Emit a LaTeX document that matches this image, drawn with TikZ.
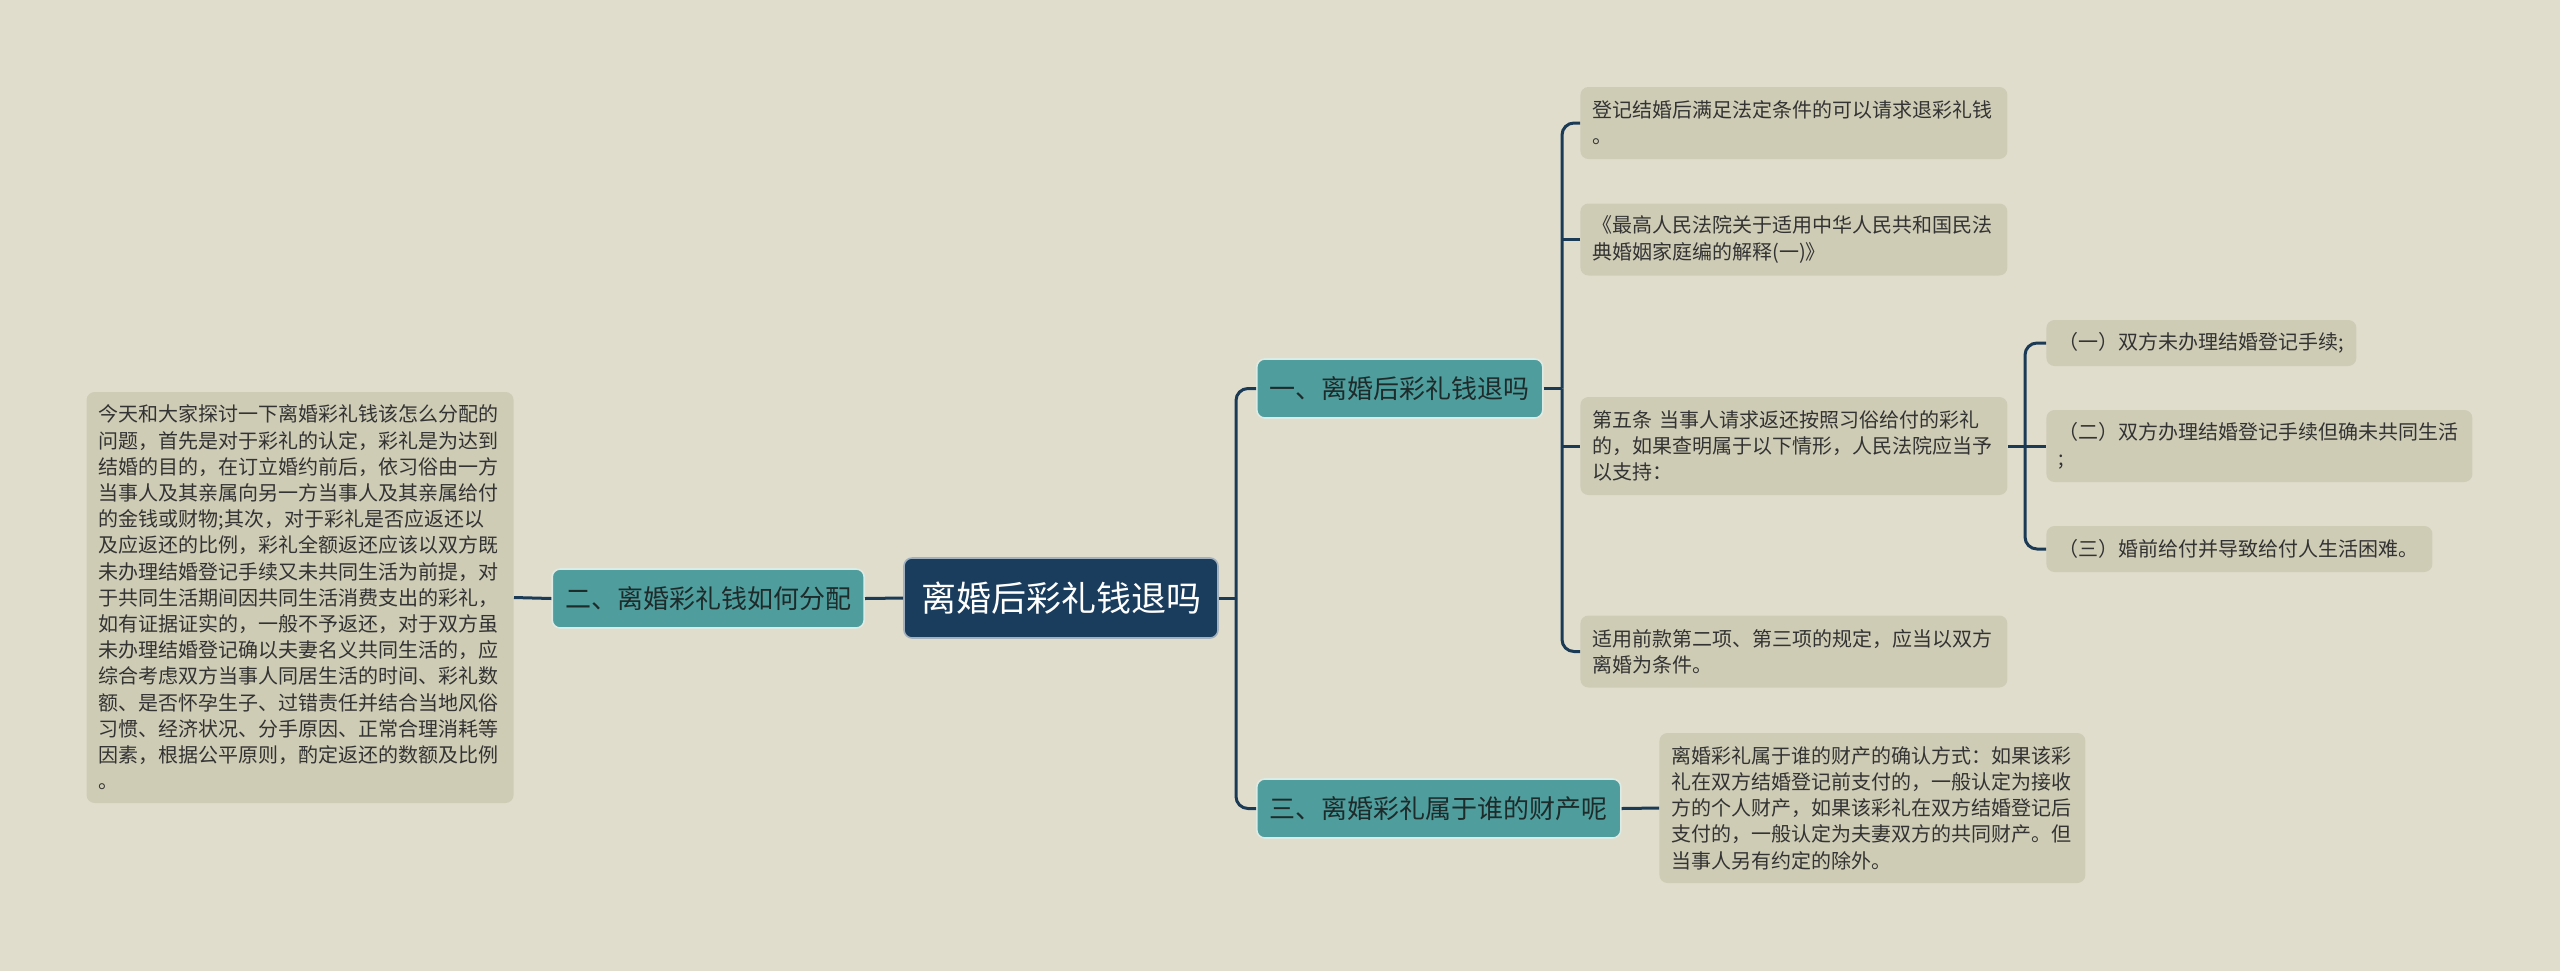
\documentclass[tikz,border=0pt]{standalone}
\usepackage{fontspec}
\newfontfamily\cjk{Noto Sans CJK SC}
\definecolor{bgc}{HTML}{E0DDCD}
\definecolor{leafc}{HTML}{CFCCB6}
\definecolor{tealc}{HTML}{509D9D}
\definecolor{tealborder}{HTML}{DDEBE4}
\definecolor{rootc}{HTML}{1A3D5E}
\definecolor{linec}{HTML}{1B3A56}
\definecolor{leaftext}{HTML}{333333}
\definecolor{lvltext}{HTML}{1E2B2B}
\begin{document}
\begin{tikzpicture}[x=0.5pt,y=-0.5pt,
  conn/.style={draw=linec, line width=1.5pt},
  leaf/.style={fill=leafc, rounded corners=4pt, font=\cjk\fontsize{10}{13.1}\selectfont, text=leaftext, align=left, inner xsep=6pt, inner ysep=0pt},
  lvl/.style={fill=tealc, draw=tealborder, line width=0.8pt, rounded corners=4pt, font=\cjk\fontsize{13}{15}\selectfont, text=lvltext, inner xsep=6.5pt, inner ysep=0pt, minimum height=29.5pt},
  rootn/.style={fill=rootc, draw=white!60!rootc, line width=0.8pt, rounded corners=4pt, font=\cjk\fontsize{17.5}{20}\selectfont, text=white, minimum width=157pt, minimum height=40pt, inner sep=0pt}]
\useasboundingbox (0,0) rectangle (2560,971);
\fill[bgc] (0,0) rectangle (2560,971);

% nodes
\node[rootn] (root) at (1061,598) {离婚后彩礼钱退吗};
\node[lvl, anchor=east] (n2) at (865,598.5) {二、离婚彩礼钱如何分配};
\node[lvl, anchor=west] (n1) at (1256,388.5) {一、离婚后彩礼钱退吗};
\node[lvl, anchor=west] (n3) at (1256,808.5) {三、离婚彩礼属于谁的财产呢};

\node[leaf, anchor=east, text width=201.5pt, minimum height=205.5pt] (lb) at (514,597.5) {今天和大家探讨一下离婚彩礼钱该怎么分配的\\问题，首先是对于彩礼的认定，彩礼是为达到\\结婚的目的，在订立婚约前后，依习俗由一方\\当事人及其亲属向另一方当事人及其亲属给付\\的金钱或财物;其次，对于彩礼是否应返还以\\及应返还的比例，彩礼全额返还应该以双方既\\未办理结婚登记手续又未共同生活为前提，对\\于共同生活期间因共同生活消费支出的彩礼，\\如有证据证实的，一般不予返还，对于双方虽\\未办理结婚登记确以夫妻名义共同生活的，应\\综合考虑双方当事人同居生活的时间、彩礼数\\额、是否怀孕生子、过错责任并结合当地风俗\\习惯、经济状况、分手原因、正常合理消耗等\\因素，根据公平原则，酌定返还的数额及比例\\。};

\node[leaf, anchor=west, text width=201.5pt, minimum height=36pt] (b1) at (1580,123) {登记结婚后满足法定条件的可以请求退彩礼钱\\。};
\node[leaf, anchor=west, text width=201.5pt, minimum height=36pt] (b2) at (1580,239.5) {《最高人民法院关于适用中华人民共和国民法\\典婚姻家庭编的解释(一)》};
\node[leaf, anchor=west, text width=201.5pt, minimum height=49pt] (b3) at (1580,446) {第五条 当事人请求返还按照习俗给付的彩礼\\的，如果查明属于以下情形，人民法院应当予\\以支持：};
\node[leaf, anchor=west, text width=201.5pt, minimum height=36pt] (b4) at (1580,651.5) {适用前款第二项、第三项的规定，应当以双方\\离婚为条件。};

\node[leaf, anchor=west, text width=143pt, minimum height=23pt] (s1) at (2046,343) {（一）双方未办理结婚登记手续;};
\node[leaf, anchor=west, text width=201pt, minimum height=36pt] (s2) at (2046,446) {（二）双方办理结婚登记手续但确未共同生活\\;};
\node[leaf, anchor=west, text width=181pt, minimum height=23pt] (s3) at (2046,549) {（三）婚前给付并导致给付人生活困难。};

\node[leaf, anchor=west, text width=201pt, minimum height=75pt] (t3) at (1659,808) {离婚彩礼属于谁的财产的确认方式：如果该彩\\礼在双方结婚登记前支付的，一般认定为接收\\方的个人财产，如果该彩礼在双方结婚登记后\\支付的，一般认定为夫妻双方的共同财产。但\\当事人另有约定的除外。};

% trunk coordinates
\coordinate (t0) at (1236,598);
\coordinate (t1) at (1562,388.5);
\coordinate (t2) at (2025,446);

% connectors
\draw[conn] (lb.east) -- (n2.west);
\draw[conn] (n2.east) -- (root.west);
\draw[conn] (root.east) -- (t0);
\draw[conn, rounded corners=6pt] (n1.west) -| (t0);
\draw[conn, rounded corners=6pt] (n3.west) -| (t0);

\draw[conn] (n1.east) -- (t1);
\draw[conn, rounded corners=6pt] (b1.west) -| (t1);
\draw[conn, rounded corners=6pt] (b4.west) -| (t1);
\draw[conn] (b2.west) -- (b2.west -| t1);
\draw[conn] (b3.west) -- (b3.west -| t1);

\draw[conn] (b3.east) -- (s2.west);
\draw[conn, rounded corners=6pt] (s1.west) -| (t2);
\draw[conn, rounded corners=6pt] (s3.west) -| (t2);

\draw[conn] (n3.east) -- (t3.west);
\end{tikzpicture}
\end{document}
